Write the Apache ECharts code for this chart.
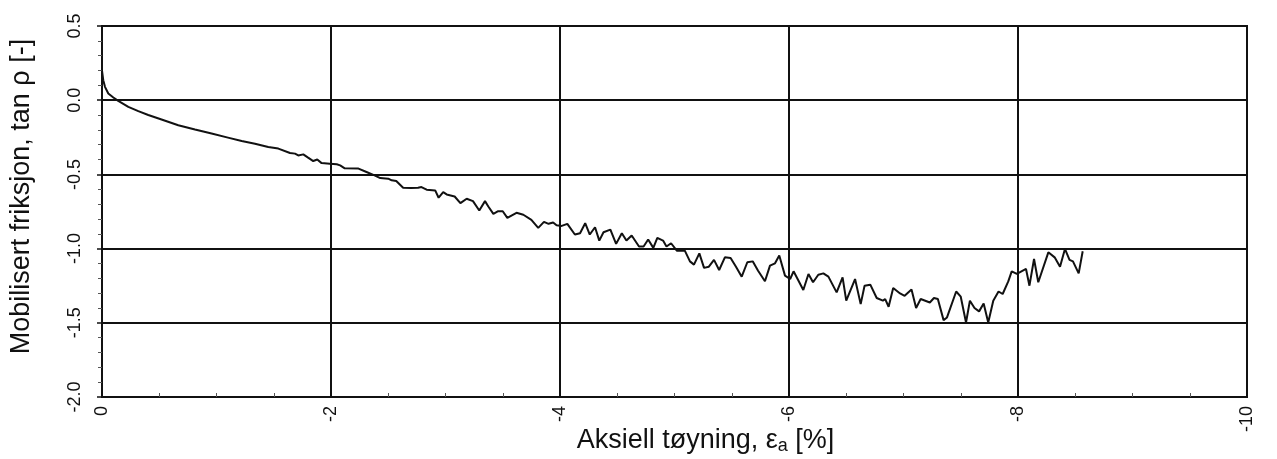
<!DOCTYPE html>
<html>
<head>
<meta charset="utf-8">
<script src="https://cdn.jsdelivr.net/npm/echarts@6/dist/echarts.min.js"></script>
<style>
  html, body { margin: 0; padding: 0; background: #fff; }
  #chart { width: 1277px; height: 459px; }
</style>
</head>
<body>
<div id="chart"></div>
<script>
// Axial strain (%) values
const strain = [
  0, -0.011, -0.026, -0.055, -0.099, -0.142, -0.23, -0.317, -0.404, -0.52,
  -0.666, -0.812, -0.957, -1.10, -1.22, -1.336, -1.452, -1.54, -1.642, -1.686,
  -1.714, -1.758, -1.80, -1.845, -1.88, -1.918, -1.99, -2.05, -2.08, -2.12,
  -2.24, -2.31, -2.38, -2.43, -2.50, -2.53, -2.57, -2.63, -2.70, -2.76,
  -2.79, -2.835, -2.91, -2.94, -2.98, -3.01, -3.08, -3.13, -3.185, -3.24,
  -3.295, -3.345, -3.374, -3.418, -3.46, -3.50, -3.54, -3.62, -3.68, -3.75,
  -3.81, -3.86, -3.90, -3.94, -3.97, -4.015, -4.064, -4.13, -4.175, -4.22,
  -4.26, -4.306, -4.343, -4.38, -4.44, -4.49, -4.54, -4.58, -4.626, -4.69,
  -4.73, -4.77, -4.815, -4.85, -4.90, -4.93, -4.97, -5.02, -5.09, -5.135,
  -5.17, -5.217, -5.258, -5.30, -5.345, -5.39, -5.44, -5.49, -5.537, -5.587,
  -5.636, -5.683, -5.73, -5.79, -5.834, -5.878, -5.915, -5.965, -6.01, -6.04,
  -6.125, -6.17, -6.21, -6.256, -6.30, -6.344, -6.416, -6.468, -6.50, -6.577,
  -6.626, -6.66, -6.71, -6.766, -6.82, -6.84, -6.87, -6.91, -6.97, -7.01,
  -7.07, -7.11, -7.15, -7.23, -7.266, -7.30, -7.35, -7.38, -7.46, -7.50,
  -7.546, -7.58, -7.62, -7.66, -7.70, -7.74, -7.784, -7.83, -7.866, -7.915,
  -7.945, -7.99, -8.03, -8.07, -8.10, -8.14, -8.177, -8.265, -8.32, -8.367,
  -8.41, -8.45, -8.48, -8.53, -8.565
];
// Mobilised friction tan rho
const friction = [
  0.20, 0.135, 0.09, 0.045, 0.018, -0.005, -0.045, -0.074, -0.10, -0.13,
  -0.169, -0.198, -0.225, -0.252, -0.275, -0.293, -0.315, -0.326, -0.356, -0.36,
  -0.372, -0.365, -0.387, -0.41, -0.40, -0.424, -0.428, -0.432, -0.439, -0.459,
  -0.461, -0.484, -0.507, -0.525, -0.529, -0.54, -0.545, -0.59, -0.592, -0.59,
  -0.585, -0.603, -0.608, -0.657, -0.62, -0.635, -0.649, -0.694, -0.664, -0.68,
  -0.743, -0.68, -0.716, -0.766, -0.748, -0.748, -0.793, -0.759, -0.772, -0.806,
  -0.86, -0.82, -0.833, -0.824, -0.843, -0.847, -0.833, -0.905, -0.896, -0.829,
  -0.905, -0.856, -0.946, -0.89, -0.872, -0.968, -0.896, -0.946, -0.912, -0.986,
  -0.986, -0.939, -0.995, -0.928, -0.946, -0.986, -0.964, -1.014, -1.014, -1.086,
  -1.108, -1.032, -1.13, -1.122, -1.076, -1.144, -1.059, -1.063, -1.122, -1.189,
  -1.092, -1.086, -1.149, -1.22, -1.115, -1.099, -1.047, -1.182, -1.205, -1.153,
  -1.279, -1.171, -1.227, -1.176, -1.167, -1.189, -1.295, -1.194, -1.351, -1.205,
  -1.374, -1.25, -1.243, -1.333, -1.351, -1.34, -1.392, -1.266, -1.302, -1.318,
  -1.275, -1.40, -1.34, -1.363, -1.333, -1.34, -1.482, -1.464, -1.289, -1.324,
  -1.498, -1.351, -1.40, -1.423, -1.37, -1.498, -1.351, -1.289, -1.306, -1.221,
  -1.153, -1.17, -1.153, -1.137, -1.25, -1.07, -1.227, -1.025, -1.059, -1.122,
  -1.002, -1.076, -1.086, -1.167, -1.018
];

const xTitle = 'Aksiell tøyning, ε{sub|a} [%]';
const yTitle = 'Mobilisert friksjon, tan ρ [-]';

const chart = echarts.init(document.getElementById('chart'), null, { renderer: 'canvas' });
const FONT = '"Liberation Sans", Arial, sans-serif';
const INK = '#111';

chart.setOption({
  backgroundColor: '#fff',
  animation: false,
  grid: {
    left: 102, right: 30, top: 26, bottom: 62,
    outerBoundsMode: 'none', containLabel: false,
    show: true, borderColor: INK, borderWidth: 2, backgroundColor: 'transparent'
  },
  xAxis: {
    type: 'value', min: -10, max: 0, interval: 2, inverse: true,
    name: xTitle, nameLocation: 'middle', nameGap: 29, nameMoveOverlap: false,
    nameTextStyle: {
      fontFamily: FONT, fontSize: 27, color: INK, padding: [0, 0, 0, 62],
      rich: { sub: { fontFamily: FONT, fontSize: 18, color: INK, verticalAlign: 'bottom', padding: [11, 0, 0, 0] } }
    },
    axisLine: { show: true, onZero: false, lineStyle: { color: INK, width: 2 } },
    axisTick: { show: true, inside: true, length: 5, lineStyle: { color: INK, width: 1.5 } },
    minorTick: { show: true, splitNumber: 4, length: 4, lineStyle: { color: '#555', width: 1 } },
    axisLabel: { rotate: 90, margin: 9, fontFamily: FONT, fontSize: 18, color: INK,
      formatter: v => String(Math.round(v)) },
    splitLine: { show: true, lineStyle: { color: INK, width: 2 } }
  },
  yAxis: {
    type: 'value', min: -2, max: 0.5, interval: 0.5,
    name: yTitle, nameLocation: 'middle', nameGap: 67, nameRotate: 90, nameMoveOverlap: false,
    nameTextStyle: { fontFamily: FONT, fontSize: 27, color: INK, padding: [0, 0, 0, 30] },
    axisLine: { show: true, onZero: false, lineStyle: { color: INK, width: 2 } },
    axisTick: { show: true, length: 5, lineStyle: { color: INK, width: 1.5 } },
    minorTick: { show: true, splitNumber: 5, length: 4, lineStyle: { color: '#555', width: 1 } },
    axisLabel: { rotate: 90, margin: 18, fontFamily: FONT, fontSize: 18, color: INK,
      formatter: v => v.toFixed(1) },
    splitLine: { show: true, lineStyle: { color: INK, width: 2 } }
  },
  series: [{
    type: 'line',
    data: strain.map((x, i) => [x, friction[i]]),
    showSymbol: false,
    symbol: 'none',
    lineStyle: { color: INK, width: 2 },
    z: 5
  }]
});
</script>
</body>
</html>
